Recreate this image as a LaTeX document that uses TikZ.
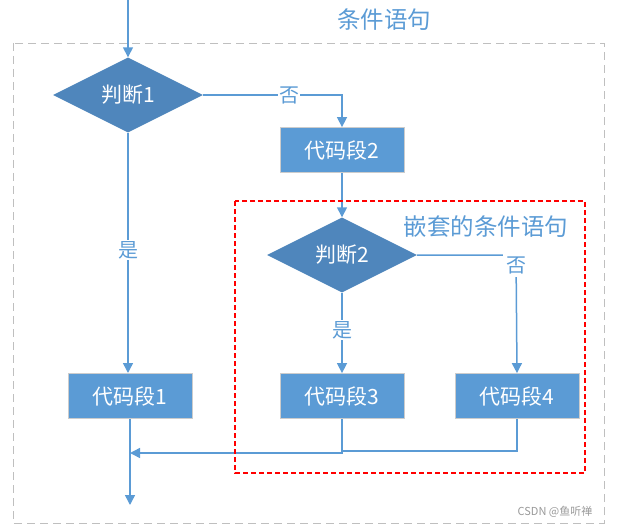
\documentclass[tikz,border=0pt]{standalone}
\usepackage{fontspec}
\setmainfont{Noto Sans CJK SC}
\usetikzlibrary{shapes.geometric,arrows.meta}
\definecolor{lineblue}{HTML}{5B9BD5}
\definecolor{diafill}{HTML}{4F86BC}
\definecolor{boxfill}{HTML}{5B9BD5}
\definecolor{framered}{RGB}{255,0,0}
\tikzset{
  conn/.style={draw=lineblue, line width=1.5pt},
  arr/.style={conn, -{Triangle[length=10pt,width=10pt]}},
  decision/.style={diamond, aspect=2, fill=diafill, draw=none, minimum width=150pt, minimum height=75pt, inner sep=0pt, text=white, font=\fontsize{21}{21}\selectfont},
  codebox/.style={rectangle, fill=boxfill, draw=black!20, line width=0.8pt, minimum width=124pt, minimum height=45pt, text=white, font=\fontsize{21}{21}\selectfont},
  lbl/.style={text=lineblue, fill=white, inner sep=1pt, font=\fontsize{20}{20}\selectfont},
  title/.style={text=lineblue, font=\fontsize{23.5}{23.5}\selectfont},
  redframe/.style={color=framered, line width=1.2pt, dash pattern=on 5pt off 3pt}
}
\begin{document}
\begin{tikzpicture}[x=1pt,y=-1pt]
\useasboundingbox (0,0) rectangle (617,529);
% outer and inner frames
\draw[black!25, dash pattern=on 8pt off 5pt, line width=0.8pt] (13,43) rectangle (604,523);
\node[title] (t1) at (384,20) {条件语句};
\node[title] (t2) at (486,227) {嵌套的条件语句};
% nodes
\coordinate (start) at (128,0);
\node[decision] (d1) at (128,95) {判断1};
\node[codebox] (c2) at (342,150) {代码段2};
\node[decision] (d2) at (342,255) {判断2};
\node[codebox] (c1) at (130,396) {代码段1};
\node[codebox] (c3) at (342,396) {代码段3};
\node[codebox] (c4) at (517,396) {代码段4};
\coordinate (merge) at (130,453);
\coordinate (endp) at (130,505);
% connectors
\draw[arr] (start) -- (d1.north);
\draw[arr] (d1.east) -- (342,95) -- (c2.north);
\node[lbl] (no1) at (289,95) {否};
\draw[arr] (c2.south) -- (d2.north);
\draw[arr] (d1.south) -- (128,373);
\node[lbl] (yes1) at (128,250) {是};
\draw[arr] (d2.south) -- (c3.north);
\node[lbl] (yes2) at (342,330) {是};
\draw[arr] (d2.east) -- (516,255) -- (c4.north);
\node[lbl, inner sep=3pt] (no2) at (516,265) {否};
\draw[arr] (c1.south) -- (endp);
\draw[conn] (c4.south) -- (517,451) -- (342,451);
\draw[arr] (c3.south) -- (342,453) -- (merge);
\draw[redframe] (235,201) rectangle (585,473);
% watermark
\node[text=black!40, font=\fontsize{11}{11}\selectfont] (wm) at (555,512) {CSDN @鱼听禅};
\end{tikzpicture}
\end{document}
